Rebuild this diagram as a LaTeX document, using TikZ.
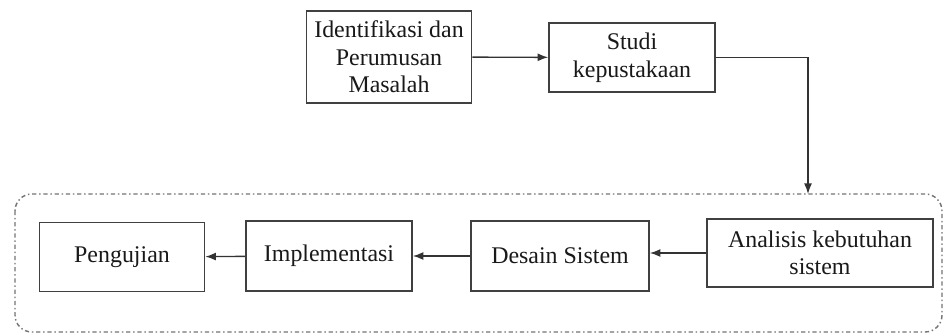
\documentclass[tikz,border=0pt]{standalone}
\usepackage{fontspec}
\setmainfont{Liberation Serif}
\usetikzlibrary{arrows.meta,positioning}

\begin{document}
\begin{tikzpicture}[x=0.025cm, y=-0.025cm, >=Latex,
  blok/.style={draw=black!75, line width=1.1pt, fill=white, align=center,
    inner sep=0pt, font=\fontsize{17}{19.6}\selectfont, text=black!90},
  panah/.style={->, line width=1pt, black!80},
  kelompok/.style={draw=black!55, line width=1pt, rounded corners=12pt,
    dash pattern=on 3pt off 2pt on 1pt off 2pt}]
  \useasboundingbox (0,0) rectangle (945,334);
  % tahap awal
  \node[blok, minimum width=4.125cm, minimum height=2.3cm] (idf) at (389,57)
    {Identifikasi dan\\Perumusan\\Masalah};
  \node[blok, minimum width=4.15cm, minimum height=1.725cm] (studi) at (632,57.5)
    {Studi\\kepustakaan};
  % kelompok pengembangan
  \draw[kelompok] (15,194) rectangle (942,332);
  \node[blok, minimum width=4.125cm, minimum height=1.725cm] (uji) at (122,257) {Pengujian};
  \node[blok, minimum width=4.15cm, minimum height=1.75cm] (impl) at (329,256) {Implementasi};
  \node[blok, minimum width=4.45cm, minimum height=1.75cm] (desain) at (560,256) {Desain Sistem};
  \node[blok, minimum width=5.65cm, minimum height=1.7cm] (anal) at (820,253)
    {Analisis kebutuhan\\sistem};
  \coordinate (masuk) at (808,194);
  % panah
  \draw[panah] (idf) -- (studi);
  \draw[panah] (studi.east) -| (masuk);
  \draw[panah] (anal.west) -- (desain.east |- anal.west);
  \draw[panah] (desain) -- (impl);
  \draw[panah] (impl) -- (uji);
\end{tikzpicture}
\end{document}
